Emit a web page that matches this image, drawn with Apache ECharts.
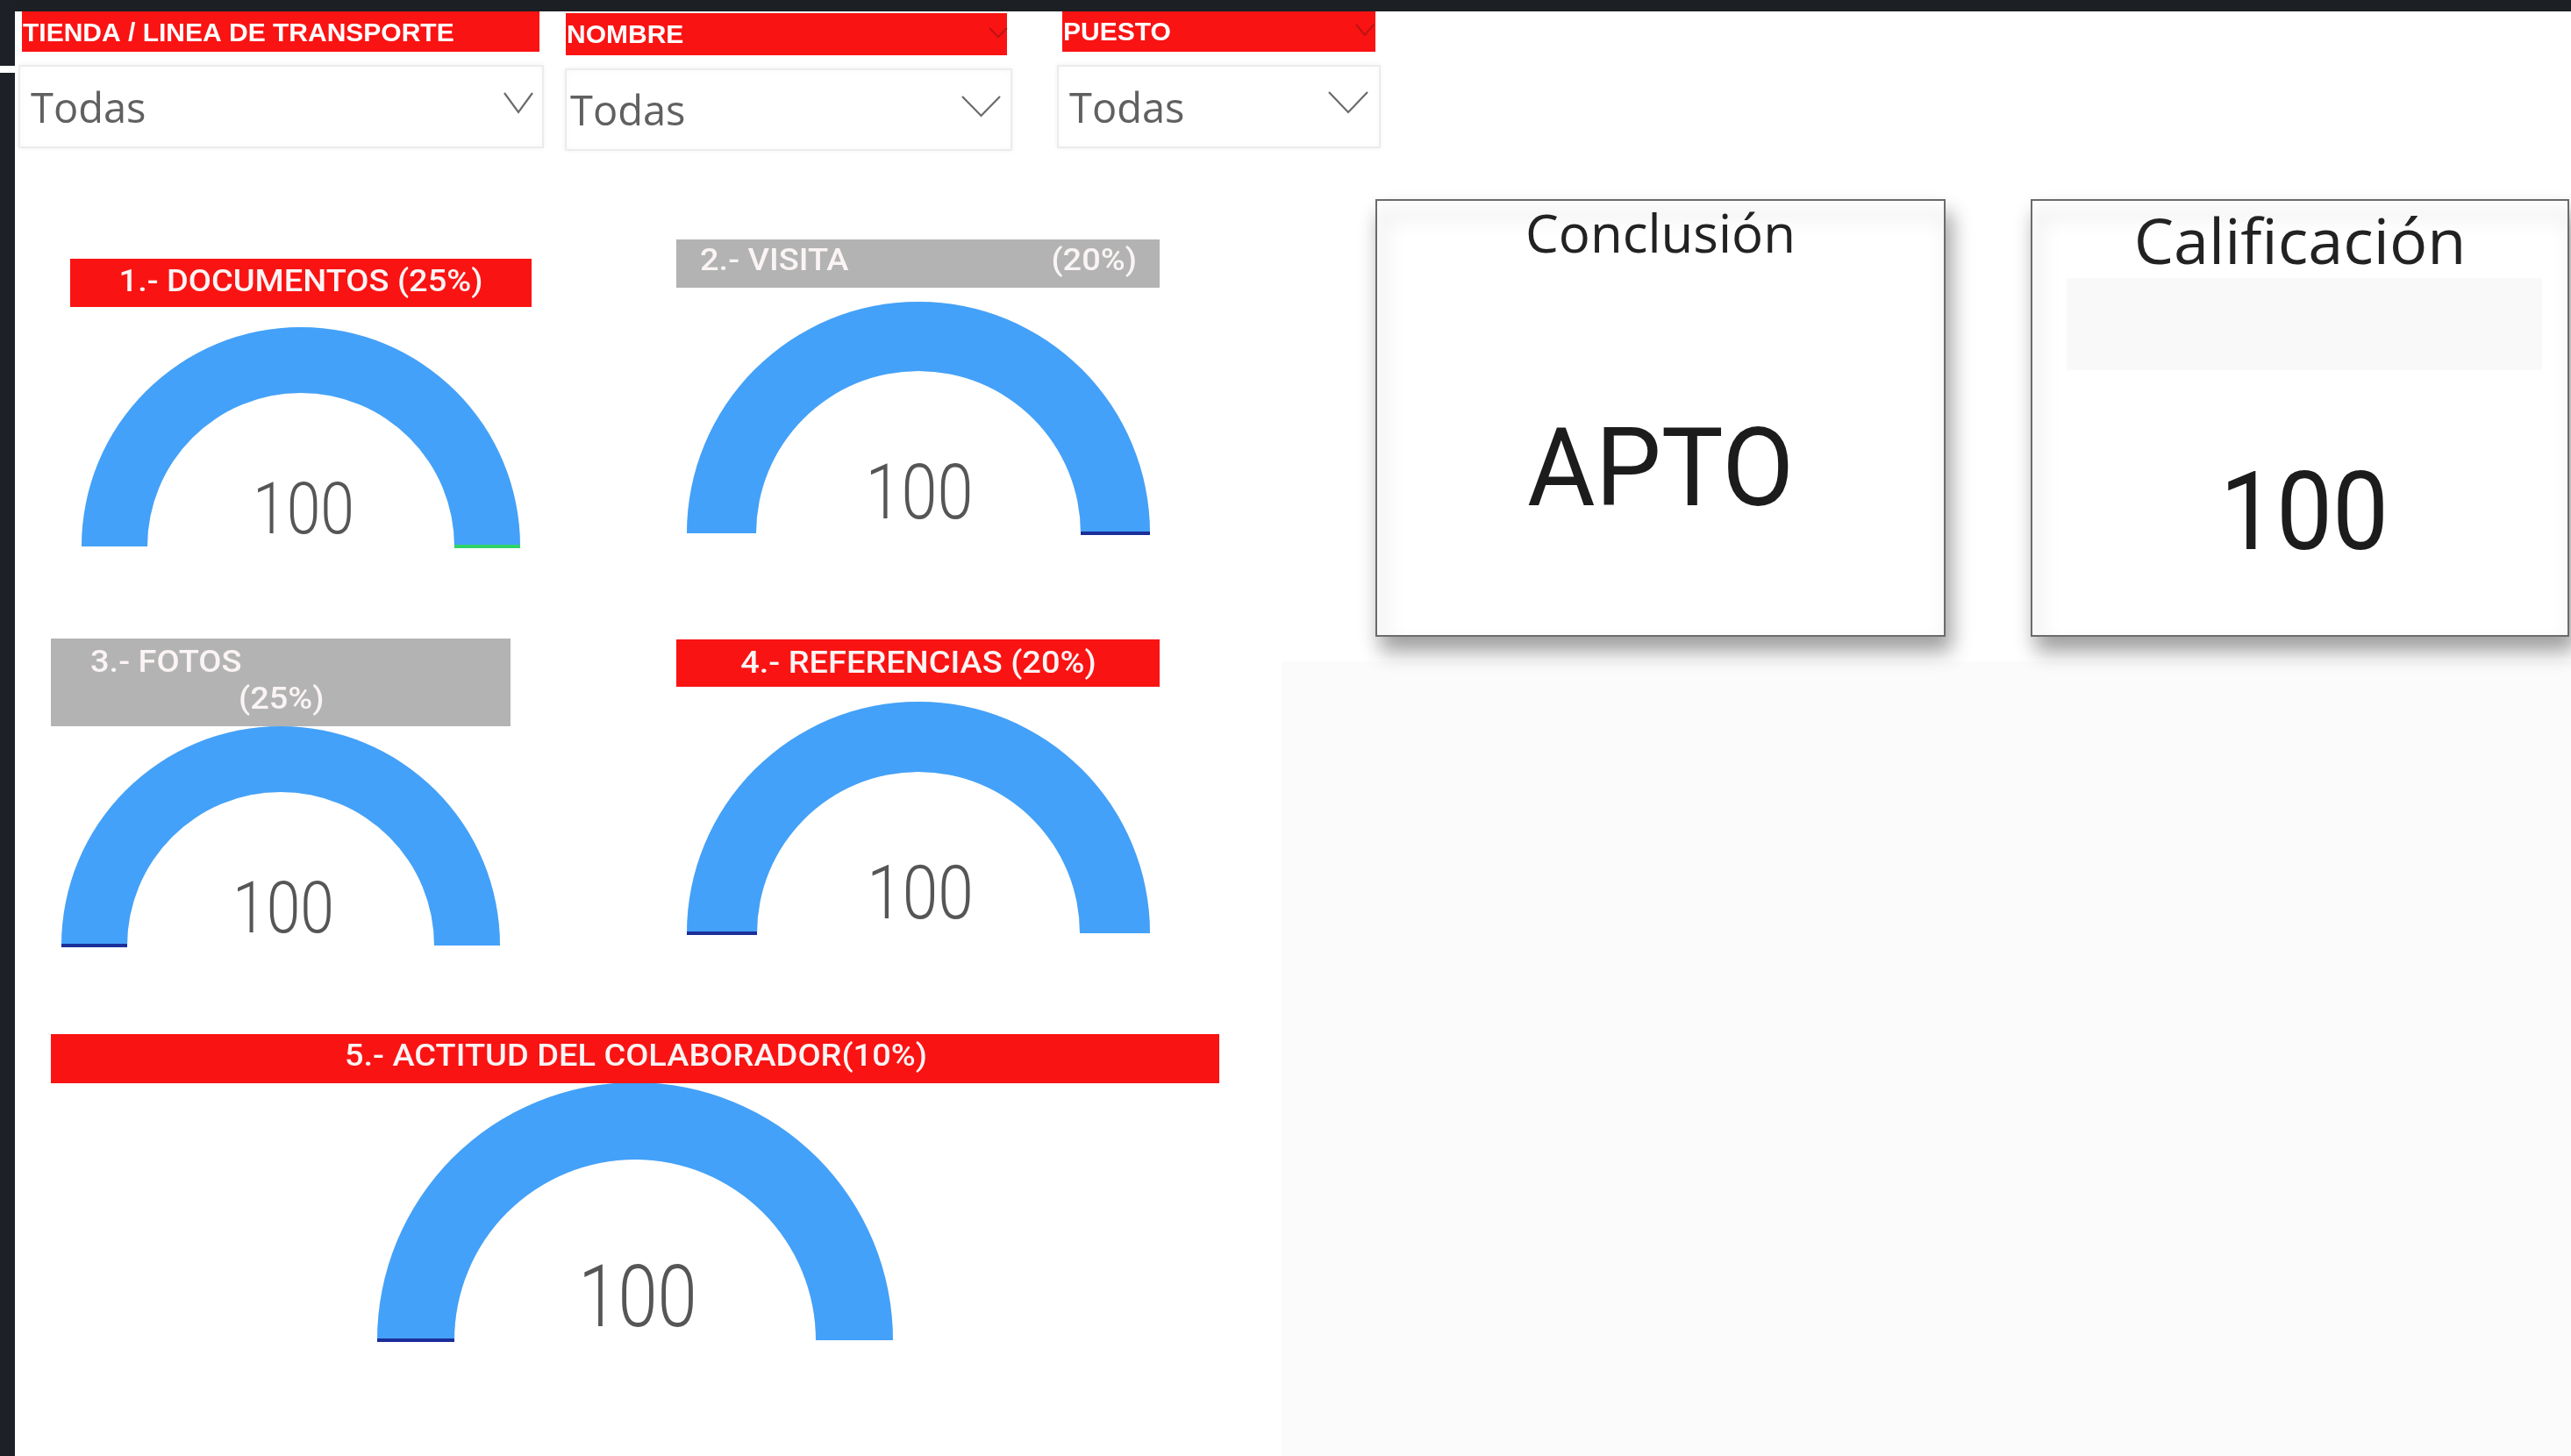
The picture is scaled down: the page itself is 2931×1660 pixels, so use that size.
<!DOCTYPE html>
<html>
<head>
<meta charset="utf-8">
<script src="https://cdn.jsdelivr.net/npm/echarts@6/dist/echarts.min.js"></script>
<style>
html,body{margin:0;padding:0;background:#fff;overflow:hidden;}
#chart{width:2931px;height:1660px;}
</style>
</head>
<body>
<div id="chart"></div>
<script>
// ---------- data ----------
const filterHeaders = ['TIENDA / LINEA DE TRANSPORTE', 'NOMBRE', 'PUESTO'];
const filterValues = ['Todas', 'Todas', 'Todas'];
const gaugeTitles = ['1.- DOCUMENTOS (25%)', '2.- VISITA', '3.- FOTOS', '4.- REFERENCIAS (20%)', '5.- ACTITUD DEL COLABORADOR(10%)'];
const gaugeWeights = ['', '(20%)', '(25%)', '', ''];
const gaugeValues = [100, 100, 100, 100, 100];
const gaugeTargets = [100, 100, 0, 0, 0];
const gaugeMin = 0;
const gaugeMax = 100;
const cardTitles = ['Conclusión', 'Calificación'];
const cardValues = ['APTO', '100'];

// ---------- layout / style ----------
const RED = '#fa1313', GRAY = '#b3b3b3', BLUE = '#43a1f9';
const targetColors = ['#2fd36a', '#1b2f9a', '#1b2f9a', '#1b2f9a', '#1b2f9a'];
const filterLayout = [
  {hx: 25, hy: 13, hw: 590, hh: 46, ty: 39, bx: 22, by: 75, bw: 597, bh: 93, vx: 35, vy: 127, chev: [575, 106, 607, 128]},
  {hx: 645, hy: 15, hw: 503, hh: 48, ty: 41, bx: 645, by: 79, bw: 508, bh: 92, vx: 650, vy: 130, chev: [1097, 110, 1140, 132], hchev: [1128, 32, 1148, 42]},
  {hx: 1211, hy: 13, hw: 357, hh: 46, ty: 38, bx: 1206, by: 75, bw: 367, bh: 93, vx: 1219, vy: 127, chev: [1515, 105, 1559, 128], hchev: [1546, 28, 1566, 40]}
];
const gaugeLayout = [
  {cx: 343, cy: 623, r: 250, w: 75, vx: 346, vy: 587, fs: 82, sx: 0.85, box: [80, 295, 526, 55], col: RED, tx: 343, ty: 323, align: 'center'},
  {cx: 1047, cy: 608, r: 264, w: 79, vx: 1048, vy: 569, fs: 87, sx: 0.85, box: [771, 273, 551, 55], col: GRAY, tx: 798, ty: 299, align: 'left', wx: 1296, wy: 299, walign: 'right'},
  {cx: 320, cy: 1078, r: 250, w: 75, vx: 323, vy: 1042, fs: 82, sx: 0.85, box: [58, 728, 524, 100], col: GRAY, tx: 103, ty: 757, align: 'left', wx: 272, wy: 799, walign: 'left'},
  {cx: 1047, cy: 1064, r: 264, w: 80, vx: 1049, vy: 1025, fs: 86, sx: 0.85, box: [771, 729, 551, 54], col: RED, tx: 1047, ty: 758, align: 'center'},
  {cx: 724, cy: 1528, r: 294, w: 88, vx: 727, vy: 1487, fs: 98, sx: 0.83, box: [58, 1179, 1332, 56], col: RED, tx: 725, ty: 1206, align: 'center'}
];
const cardLayout = [
  {x: 1569, y: 228, w: 648, h: 497, tx: 1893, ty: 271, tfs: 60, vx: 1893, vy: 545, vfs: 124, vsx: 0.96},
  {x: 2316, y: 228, w: 612, h: 497, tx: 2622, ty: 280, tfs: 72, vx: 2627, vy: 595, vfs: 124, vsx: 0.92}
];
const headerFont = '500 35px Roboto, sans-serif';
const headerScale = 1.085;

const chart = echarts.init(document.getElementById('chart'), null, {renderer: 'canvas'});

const graphics = [];
// background pieces
graphics.push({type: 'rect', shape: {x: 1461, y: 754, width: 1470, height: 906}, style: {fill: '#fbfbfb'}, z: 0});
graphics.push({type: 'rect', shape: {x: 0, y: 0, width: 2931, height: 13}, style: {fill: '#1c1f23'}, z: 1});
graphics.push({type: 'rect', shape: {x: 0, y: 0, width: 17, height: 1660}, style: {fill: '#1d2127'}, z: 1});
graphics.push({type: 'rect', shape: {x: 0, y: 75, width: 17, height: 8}, style: {fill: '#ffffff'}, z: 2});

// filters (slicers)
filterHeaders.forEach((h, i) => {
  const L = filterLayout[i];
  graphics.push({type: 'rect', shape: {x: L.hx, y: L.hy, width: L.hw, height: L.hh}, style: {fill: RED}, z: 3});
  graphics.push({type: 'text', x: L.hx + 1, y: L.ty, style: {text: h, fill: '#ffffff', font: 'bold 30px "Liberation Sans", Arial, sans-serif', align: 'left', verticalAlign: 'middle'}, z: 4});
  if (L.hchev) {
    const c = L.hchev;
    graphics.push({type: 'polyline', shape: {points: [[c[0], c[1]], [(c[0] + c[2]) / 2, c[3]], [c[2], c[1]]]}, style: {stroke: 'rgba(140,20,20,0.55)', lineWidth: 2, fill: null}, z: 4});
  }
  graphics.push({type: 'rect', shape: {x: L.bx, y: L.by, width: L.bw, height: L.bh}, style: {fill: '#ffffff', stroke: '#ececec', lineWidth: 2, shadowBlur: 6, shadowColor: 'rgba(0,0,0,0.05)'}, z: 3});
  graphics.push({type: 'text', x: L.vx, y: L.vy, style: {text: filterValues[i], fill: '#606060', font: '47px "Open Sans", sans-serif', align: 'left', verticalAlign: 'middle'}, z: 4});
  const c = L.chev;
  graphics.push({type: 'polyline', shape: {points: [[c[0], c[1]], [(c[0] + c[2]) / 2, c[3]], [c[2], c[1]]]}, style: {stroke: '#6a6a6a', lineWidth: 2.2, fill: null}, z: 4});
});

// gauge header boxes and value labels
gaugeTitles.forEach((t, i) => {
  const L = gaugeLayout[i];
  graphics.push({type: 'rect', shape: {x: L.box[0], y: L.box[1], width: L.box[2], height: L.box[3]}, style: {fill: L.col}, z: 3});
  graphics.push({type: 'text', x: L.tx, y: L.ty, scaleX: headerScale, style: {text: t, fill: '#fbf4f4', font: headerFont, align: L.align, verticalAlign: 'middle'}, z: 4});
  if (gaugeWeights[i]) {
    graphics.push({type: 'text', x: L.wx, y: L.wy, scaleX: headerScale, style: {text: gaugeWeights[i], fill: '#fbf4f4', font: headerFont, align: L.walign, verticalAlign: 'middle'}, z: 4});
  }
  graphics.push({type: 'text', x: L.vx, y: L.vy, scaleX: L.sx, style: {text: String(gaugeValues[i]), fill: '#565656', font: '300 ' + L.fs + 'px Roboto, sans-serif', align: 'center', verticalAlign: 'middle'}, z: 6});
});

// cards
cardTitles.forEach((t, i) => {
  const C = cardLayout[i];
  graphics.push({type: 'rect', shape: {x: C.x, y: C.y, width: C.w, height: C.h}, style: {fill: '#ffffff', stroke: '#6b6b6b', lineWidth: 2, shadowBlur: 22, shadowOffsetX: 6, shadowOffsetY: 16, shadowColor: 'rgba(0,0,0,0.38)'}, z: 3});
  if (i === 1) graphics.push({type: 'rect', shape: {x: 2356, y: 317, width: 542, height: 105}, style: {fill: '#f9f9f9'}, z: 4});
  graphics.push({type: 'text', x: C.tx, y: C.ty, style: {text: t, fill: '#222222', font: C.tfs + 'px "Open Sans", sans-serif', align: 'center', verticalAlign: 'middle'}, z: 5});
  graphics.push({type: 'text', x: C.vx, y: C.vy, scaleX: C.vsx, style: {text: cardValues[i], fill: '#1c1c1c', font: C.vfs + 'px Roboto, sans-serif', align: 'center', verticalAlign: 'middle'}, z: 5});
});

// gauge series
const series = [];
gaugeValues.forEach((v, i) => {
  const L = gaugeLayout[i];
  const common = {
    type: 'gauge', center: [L.cx, L.cy], radius: L.r, startAngle: 180, endAngle: 0,
    min: gaugeMin, max: gaugeMax, splitNumber: 1,
    axisTick: {show: false}, splitLine: {show: false}, axisLabel: {show: false},
    anchor: {show: false}, title: {show: false}, detail: {show: false},
    animation: false, silent: true
  };
  series.push(Object.assign({}, common, {
    z: 2,
    axisLine: {lineStyle: {width: L.w, color: [[1, '#e8e8e8']]}},
    progress: {show: true, width: L.w, itemStyle: {color: BLUE}},
    pointer: {show: false},
    data: [{value: v}]
  }));
  series.push(Object.assign({}, common, {
    z: 3,
    axisLine: {show: false},
    progress: {show: false},
    pointer: {show: true, icon: 'rect', width: 4, length: L.w, offsetCenter: [0, -(L.r - L.w)], itemStyle: {color: targetColors[i]}},
    data: [{value: gaugeTargets[i]}]
  }));
});

chart.setOption({
  backgroundColor: '#ffffff',
  animation: false,
  graphic: graphics,
  series: series
});
</script>
</body>
</html>
